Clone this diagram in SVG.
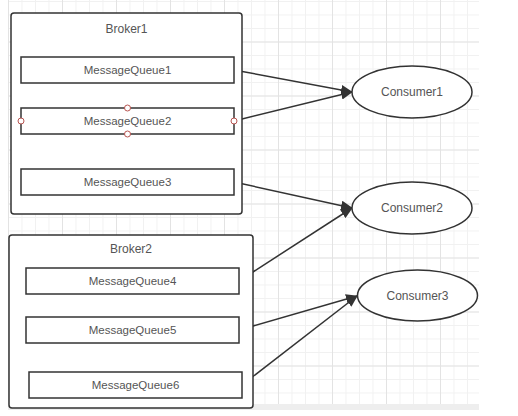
<svg xmlns="http://www.w3.org/2000/svg" width="518" height="416" viewBox="0 0 518 416">
<style>
.box{fill:#fff;stroke:#333;stroke-width:1.5}
.lbl{font-family:"Liberation Sans",Arial,sans-serif;font-size:12px;fill:#555;text-anchor:middle}
.mq{font-size:11.5px}
.conn{stroke:#333;stroke-width:1.5;fill:none}
.hdl{fill:#fff;stroke:#b85450;stroke-width:1}
</style>
<defs>
<pattern id="minor" patternUnits="userSpaceOnUse" x="8" y="1" width="13.5" height="13.5">
<rect x="0" y="0" width="1" height="13.5" fill="#f1f1f1"/>
<rect x="0" y="0" width="13.5" height="1" fill="#f1f1f1"/>
</pattern>
<pattern id="major" patternUnits="userSpaceOnUse" x="8" y="-12.5" width="54" height="54">
<rect x="0" y="0" width="1" height="54" fill="#e3e3e3"/>
<rect x="0" y="0" width="54" height="1" fill="#e3e3e3"/>
</pattern>
<marker id="arr" viewBox="0 0 12 10" refX="11" refY="5" markerWidth="12" markerHeight="10" markerUnits="userSpaceOnUse" orient="auto">
<path d="M0,0 L12,5 L0,10 Z" fill="#333"/>
</marker>
</defs>
<rect width="518" height="416" fill="#fff"/>
<g id="grid">
<rect x="8" y="0" width="471" height="404" fill="url(#minor)"/>
<rect x="8" y="0" width="471" height="404" fill="url(#major)"/>
<rect x="8" y="404" width="471" height="6" fill="#eeeeee"/>
</g>
<g id="connectors">
<line class="conn" x1="234" y1="70" x2="352" y2="92" marker-end="url(#arr)"/>
<line class="conn" x1="234" y1="121" x2="352" y2="92" marker-end="url(#arr)"/>
<line class="conn" x1="234" y1="182" x2="352" y2="208" marker-end="url(#arr)"/>
<line class="conn" x1="239" y1="281" x2="352" y2="208" marker-end="url(#arr)"/>
<line class="conn" x1="239" y1="330" x2="357" y2="296" marker-end="url(#arr)"/>
<line class="conn" x1="242" y1="385" x2="357" y2="296" marker-end="url(#arr)"/>
</g>
<g id="broker1">
<rect class="box" x="11" y="13" width="231" height="201" rx="3"/>
<text class="lbl" x="126.5" y="33">Broker1</text>
</g>
<g id="mq1">
<rect class="box" x="21" y="57" width="213" height="26"/>
<text class="lbl mq" x="127.5" y="74">MessageQueue1</text>
</g>
<g id="mq2">
<rect class="box" x="21" y="108" width="213" height="26"/>
<text class="lbl mq" x="127.5" y="125">MessageQueue2</text>
<circle class="hdl" cx="21" cy="121" r="3"/>
<circle class="hdl" cx="234" cy="121" r="3"/>
<circle class="hdl" cx="127.5" cy="108" r="3"/>
<circle class="hdl" cx="127.5" cy="134" r="3"/>
</g>
<g id="mq3">
<rect class="box" x="21" y="169" width="213" height="26"/>
<text class="lbl mq" x="127.5" y="186">MessageQueue3</text>
</g>
<g id="broker2">
<rect class="box" x="9" y="235" width="244" height="173" rx="3"/>
<text class="lbl" x="131" y="253">Broker2</text>
</g>
<g id="mq4">
<rect class="box" x="26" y="268" width="213" height="26"/>
<text class="lbl mq" x="132.5" y="285">MessageQueue4</text>
</g>
<g id="mq5">
<rect class="box" x="26" y="317" width="213" height="26"/>
<text class="lbl mq" x="132.5" y="334">MessageQueue5</text>
</g>
<g id="mq6">
<rect class="box" x="29" y="372" width="213" height="26"/>
<text class="lbl mq" x="135.5" y="389">MessageQueue6</text>
</g>
<g id="consumer1">
<ellipse class="box" cx="412" cy="92" rx="60" ry="26"/>
<text class="lbl" x="412" y="96">Consumer1</text>
</g>
<g id="consumer2">
<ellipse class="box" cx="412" cy="208" rx="60" ry="26"/>
<text class="lbl" x="412" y="212">Consumer2</text>
</g>
<g id="consumer3">
<ellipse class="box" cx="417.5" cy="295.5" rx="60" ry="25.5"/>
<text class="lbl" x="417.5" y="300">Consumer3</text>
</g>
</svg>
